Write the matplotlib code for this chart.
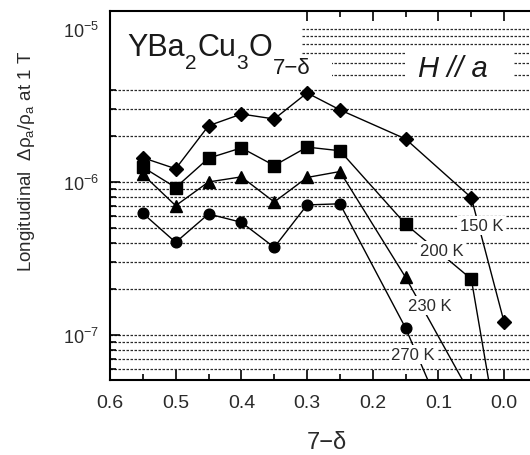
#!/usr/bin/env python3
# Longitudinal magnetoresistance of YBa2Cu3O(7-d), H // a, vs oxygen content
import matplotlib
matplotlib.use("Agg")
import matplotlib.pyplot as plt
from matplotlib.ticker import MultipleLocator, LogLocator, NullFormatter
from matplotlib.patches import Rectangle

# oxygen content (7 - delta)
x_all = [0.55, 0.5, 0.45, 0.4, 0.35, 0.3, 0.25, 0.15, 0.05, 0.0]
x_230 = [0.55, 0.5, 0.45, 0.4, 0.35, 0.3, 0.25, 0.15, 0.05]
x_270 = [0.55, 0.5, 0.45, 0.4, 0.35, 0.3, 0.25, 0.15, 0.05]

# delta rho_a / rho_a at 1 T
mr_150 = [1.44e-6, 1.22e-6, 2.33e-6, 2.78e-6, 2.58e-6, 3.82e-6, 2.96e-6, 1.91e-6, 7.9e-7, 1.21e-7]
mr_200 = [1.25e-6, 9.2e-7, 1.43e-6, 1.67e-6, 1.28e-6, 1.69e-6, 1.6e-6, 5.3e-7, 2.32e-7, 1.3e-8]
mr_230 = [1.12e-6, 7.0e-7, 1.0e-6, 1.08e-6, 7.4e-7, 1.07e-6, 1.17e-6, 2.38e-7, 4.0e-8]
mr_270 = [6.24e-7, 4.03e-7, 6.18e-7, 5.45e-7, 3.74e-7, 7.08e-7, 7.2e-7, 1.11e-7, 1.1e-8]

temp_labels = ["150 K", "200 K", "230 K", "270 K"]

plt.rcParams["font.family"] = ["Liberation Sans", "DejaVu Sans"]
plt.rcParams["mathtext.fontset"] = "custom"
plt.rcParams["mathtext.rm"] = "Liberation Sans"
plt.rcParams["mathtext.it"] = "Liberation Sans:italic"

W, H = 530, 456
fig = plt.figure(figsize=(W / 100, H / 100), dpi=100)
ax = fig.add_axes([110 / W, 1 - 381 / H, 427 / W, 369 / H])

ax.plot(x_all, mr_150, "-D", color="k", lw=1, ms=7.5, zorder=4)
ax.plot(x_all, mr_200, "-s", color="k", lw=1, ms=8.5, zorder=4)
ax.plot(x_230, mr_230, "-^", color="k", lw=1, ms=8.5, zorder=4)
ax.plot(x_270, mr_270, "-o", color="k", lw=1, ms=7.7, zorder=4)

ax.set_yscale("log")
ax.set_xlim(0.6, -0.05)
ax.set_ylim(5.08e-8, 1.31e-5)

ax.xaxis.set_major_locator(MultipleLocator(0.1))
ax.xaxis.set_minor_locator(MultipleLocator(0.05))
ax.xaxis.set_major_formatter(lambda v, p: f"{abs(v):.1f}")
ax.yaxis.set_minor_locator(LogLocator(subs=range(2, 10)))
ax.yaxis.set_minor_formatter(NullFormatter())

ax.tick_params(which="both", direction="in", top=True, right=False,
               width=1.2, colors="k", labelcolor="#2a2a2a")
ax.tick_params(axis="x", which="major", length=7, labelsize=14, pad=10)
ax.tick_params(axis="x", which="minor", length=4)
ax.tick_params(axis="y", which="major", length=7, labelsize=13, pad=8)
ax.tick_params(axis="y", which="minor", length=4)
for s in ax.spines.values():
    s.set_linewidth(1.5)

ax.yaxis.grid(True, which="both", linestyle=(0, (2, 1.2)), lw=0.9, color="#2a2a2a")
ax.set_axisbelow(True)

# white areas behind the labels (the grid stops there)
def px_box(x0, y0, x1, y1):
    fx0, fx1 = (x0 - 110) / 427, (x1 - 110) / 427
    fy0, fy1 = (381 - y1) / 369, (381 - y0) / 369
    ax.add_patch(Rectangle((fx0, fy0), fx1 - fx0, fy1 - fy0, transform=ax.transAxes,
                           facecolor="white", edgecolor="none", zorder=1.5))

px_box(110, 12, 302, 84)
px_box(302, 58, 332, 84)
px_box(405, 48, 513, 84)

# formula with low, large subscripts, built piece by piece
pieces = [("YBa", 22, 0), ("2", 15, -9.5), ("Cu", 22, 0), ("3", 15, -9.5),
          ("O", 22, 0), ("7−δ", 16, -13)]
prev = ax.text(0.04, 0.881, pieces[0][0], transform=ax.transAxes, fontsize=pieces[0][1],
               va="baseline", ha="left", color="#1a1a1a", zorder=5)
base = prev
for txt, fs, dy in pieces[1:]:
    prev = ax.annotate(txt, xy=(1, 0), xycoords=(prev, base), xytext=(0.3, dy + 4.8),
                       textcoords="offset points", fontsize=fs, va="baseline", ha="left",
                       color="#1a1a1a", zorder=5)

ax.text(0.721, 0.824, "H // a", style="italic", transform=ax.transAxes,
        fontsize=21, va="baseline", ha="left", color="#1a1a1a", zorder=5)

label_pos = [(0.0337, 5.2e-7), (0.0954, 3.56e-7), (0.1137, 1.56e-7), (0.1389, 7.5e-8)]
for lab, (lx, ly) in zip(temp_labels, label_pos):
    ax.text(lx, ly, lab, fontsize=12, ha="center", va="center", color="#2a2a2a", zorder=6,
            bbox=dict(facecolor="white", edgecolor="none", pad=1.5))

fig.text(27 / W, 1 - 161 / H, r"Longitudinal  Δρ$_{\mathregular{a}}$/ρ$_{\mathregular{a}}$ at 1 T",
         rotation=90, fontsize=13.5, ha="center", va="center", color="#2a2a2a")
fig.text(327 / W, 1 - 443 / H, "7−δ", fontsize=17, ha="center", va="center", color="#2a2a2a")

fig.savefig("out.png", dpi=100)
